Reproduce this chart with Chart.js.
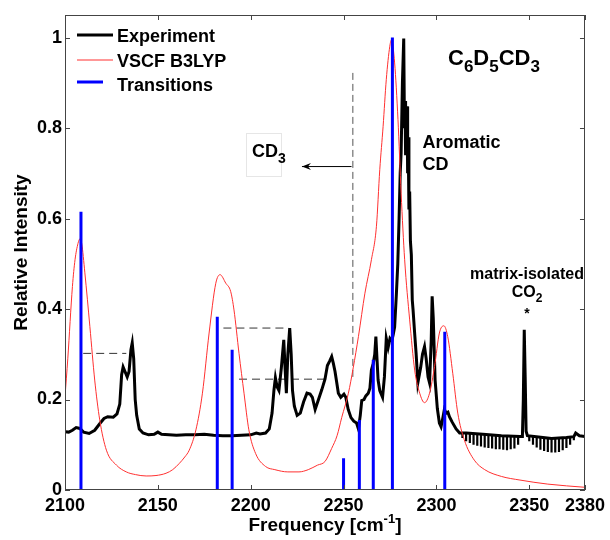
<!DOCTYPE html>
<html><head><meta charset="utf-8">
<script src="https://cdn.jsdelivr.net/npm/chart.js@4/dist/chart.umd.min.js"></script>
<style>html,body{margin:0;padding:0;background:#fff}#wrap{width:610px;height:540px;position:relative}</style>
</head><body><div id="wrap"><canvas id="c" width="610" height="540"></canvas></div>
<script>
// ---------- data ----------
const expFreq = [2100,2102,2104,2106,2108,2110,2113,2116,2119,2121,2123,2126,2128,2129.5,2130.5,2131.3,2132.3,2133.5,2134.5,2135.5,2136.2,2137,2137.8,2138.6,2140,2142,2145,2148,2150,2152,2156,2160,2165,2170,2175,2180,2185,2190,2195,2200,2203,2205,2208,2210,2211.5,2212.5,2213.3,2214.2,2215.2,2216.5,2217.8,2218.5,2219.2,2220,2221,2221.8,2222.5,2223.5,2225,2226.7,2228.5,2230.3,2232,2233.2,2234.7,2236.5,2238.3,2240,2241.3,2242.5,2243.6,2244.5,2245.4,2246.3,2247.2,2248.5,2250.2,2251.2,2252.5,2254,2255.5,2257,2258,2259,2259.8,2261,2262,2263.3,2264.2,2265,2266,2266.8,2267.4,2268,2268.6,2269.5,2271,2272,2273,2274,2275,2276,2276.7,2277.5,2278.4,2279.2,2279.9,2280.5,2281,2281.7,2282.4,2282.8,2283.1,2283.4,2283.8,2284.2,2284.5,2284.8,2285.2,2285.6,2286,2286.5,2287,2287.4,2288.3,2289.1,2290,2291.5,2292.5,2293.6,2294.5,2295.5,2296.3,2297.2,2297.7,2298.3,2299.3,2300.5,2301.6,2302.5,2303.5,2304.3,2305.3,2306.2,2307,2308.5,2310.6,2312.5,2316,2325,2335,2345,2346.3,2346.8,2347.3,2347.8,2348.3,2349,2355,2362,2370,2374,2375,2377,2380];
const expInt = [0.129,0.128,0.132,0.138,0.136,0.128,0.125,0.132,0.148,0.158,0.162,0.161,0.168,0.19,0.255,0.272,0.262,0.25,0.262,0.31,0.325,0.29,0.2,0.165,0.135,0.126,0.122,0.123,0.128,0.123,0.122,0.121,0.122,0.122,0.123,0.121,0.12,0.12,0.121,0.122,0.126,0.124,0.126,0.135,0.17,0.22,0.248,0.228,0.22,0.27,0.332,0.27,0.214,0.3,0.358,0.3,0.22,0.185,0.165,0.17,0.195,0.214,0.212,0.205,0.178,0.2,0.222,0.245,0.275,0.285,0.295,0.28,0.262,0.238,0.214,0.205,0.212,0.205,0.178,0.16,0.152,0.148,0.135,0.165,0.198,0.2,0.208,0.214,0.225,0.265,0.28,0.3,0.339,0.29,0.243,0.22,0.205,0.25,0.335,0.315,0.335,0.33,0.343,0.36,0.43,0.5,0.6,0.7,0.745,0.9,0.998,0.8,0.86,0.74,0.83,0.848,0.7,0.78,0.62,0.66,0.55,0.52,0.42,0.4,0.345,0.3,0.237,0.27,0.3,0.317,0.29,0.25,0.237,0.33,0.428,0.38,0.243,0.18,0.148,0.14,0.16,0.178,0.17,0.172,0.162,0.15,0.135,0.126,0.126,0.123,0.12,0.118,0.118,0.2,0.354,0.25,0.13,0.12,0.117,0.114,0.116,0.118,0.126,0.12,0.118];

// interference "comb" on the experimental baseline: tooth position, top and bottom intensity
const toothFreq   = [2314,2316,2318,2320,2322,2324,2326,2328,2330,2332,2334,2336,2338,2340,2342,2344,2350,2352,2354,2356,2358,2360,2362,2364,2366,2368,2370,2372,2374];
const toothTop    = [0.126,0.126,0.125,0.125,0.124,0.124,0.123,0.122,0.122,0.121,0.12,0.12,0.119,0.118,0.118,0.118,0.12,0.119,0.118,0.117,0.116,0.115,0.114,0.114,0.115,0.115,0.116,0.117,0.118];
const toothBottom = [0.115,0.108,0.104,0.1,0.098,0.096,0.094,0.093,0.092,0.09,0.09,0.089,0.088,0.09,0.092,0.1,0.108,0.1,0.094,0.089,0.086,0.084,0.083,0.083,0.084,0.088,0.093,0.1,0.11];

const vscfFreq = [2100,2101.5,2104,2105.4,2107,2108,2109,2110.7,2113.4,2116,2118.7,2122.3,2127.7,2133,2138,2143.7,2149,2154.4,2158,2161.6,2164.5,2166.9,2170.5,2174,2177.6,2181.2,2183.5,2186.6,2189.2,2191,2193.7,2196.4,2199,2202.6,2208,2213,2220,2226,2231,2236,2240,2243.6,2246.5,2249,2252.6,2255.2,2258,2261.5,2265,2267.7,2269.5,2271.3,2273,2274.9,2275.8,2277.5,2279.3,2281,2282.9,2285.6,2288.3,2291,2293.6,2296.3,2299,2301.6,2304,2306.1,2308.8,2311.5,2315,2320.4,2326,2335,2345,2360,2380];
const vscfInt = [0.206,0.29,0.45,0.509,0.545,0.555,0.545,0.48,0.361,0.243,0.155,0.088,0.055,0.04,0.034,0.031,0.032,0.037,0.045,0.059,0.073,0.088,0.133,0.214,0.347,0.457,0.476,0.457,0.439,0.398,0.302,0.214,0.133,0.081,0.052,0.045,0.04,0.04,0.045,0.055,0.063,0.092,0.12,0.16,0.214,0.27,0.339,0.435,0.509,0.583,0.708,0.804,0.907,0.981,0.995,0.944,0.819,0.656,0.509,0.376,0.265,0.214,0.193,0.214,0.273,0.347,0.363,0.339,0.258,0.17,0.111,0.066,0.045,0.03,0.022,0.013,0.006];

const transFreq = [2108.6,2182,2190,2250,2258.5,2266,2276.3,2304.5];
const transInt  = [0.615,0.383,0.31,0.07,0.155,0.288,1.0,0.35];

const xTicks = [2100,2150,2200,2250,2300,2350,2380];
const yTicks = [0,0.2,0.4,0.6,0.8,1];

// dashed guide lines: start freq, end freq, level
const guideFrom  = [2109.8,2185.3,2193.7];
const guideTo    = [2133,2220.4,2240];
const guideLevel = [0.302,0.358,0.245];
// CD3 divider: frequency, lower and upper intensity
const dividerFreq = 2255;
const dividerSpan = [0.25,0.93];
// arrow: from freq, to freq, level
const arrowSpan = [2254.3,2227.6];
const arrowLevel = 0.715;

// ---------- build ----------
const FONT = "'Liberation Sans', Arial, Helvetica, sans-serif";
const pts = (xs, ys) => xs.map((x,i)=>({x:x, y:ys[i]}));
const sticks = [];
transFreq.forEach((f,i)=>{ sticks.push({x:f,y:0},{x:f,y:transInt[i]},{x:f,y:null}); });
const teeth = [];
toothFreq.forEach((f,i)=>{ teeth.push({x:f,y:toothTop[i]},{x:f,y:toothBottom[i]},{x:f,y:null}); });
const guides = [];
guideFrom.forEach((f,i)=>{ guides.push({x:f,y:guideLevel[i]},{x:guideTo[i],y:guideLevel[i]},{x:guideTo[i],y:null}); });

const decor = {
  id:'decor',
  afterDraw(chart){
    const {ctx, chartArea:a, scales:{x,y}} = chart;
    ctx.save();
    ctx.strokeStyle = '#444'; ctx.lineWidth = 1;
    ctx.strokeRect(Math.round(a.left)+0.5, Math.round(a.top)+0.5, Math.round(a.right-a.left)-1, Math.round(a.bottom-a.top)-1);
    ctx.beginPath();
    xTicks.forEach(v=>{ const px=Math.round(x.getPixelForValue(v))+0.5;
      ctx.moveTo(px,a.bottom); ctx.lineTo(px,a.bottom-5); ctx.moveTo(px,a.top); ctx.lineTo(px,a.top+5); });
    yTicks.forEach(v=>{ const py=Math.round(y.getPixelForValue(v))+0.5;
      ctx.moveTo(a.left,py); ctx.lineTo(a.left+5,py); ctx.moveTo(a.right,py); ctx.lineTo(a.right-5,py); });
    ctx.stroke();

    ctx.fillStyle='#000';
    ctx.font = 'bold 19px '+FONT;
    ctx.save(); ctx.translate(27,(a.top+a.bottom)/2); ctx.rotate(-Math.PI/2);
    ctx.textAlign='center'; ctx.textBaseline='alphabetic'; ctx.fillText('Relative Intensity',0,0); ctx.restore();
    const t1='Frequency [cm', t2='-1', t3=']';
    ctx.font='bold 19px '+FONT; const w1=ctx.measureText(t1).width, w3=ctx.measureText(t3).width;
    ctx.font='bold 13px '+FONT; const w2=ctx.measureText(t2).width;
    let sx=(a.left+a.right)/2-(w1+w2+w3)/2; const by=531;
    ctx.textAlign='left'; ctx.textBaseline='alphabetic';
    ctx.font='bold 19px '+FONT; ctx.fillText(t1,sx,by);
    ctx.font='bold 13px '+FONT; ctx.fillText(t2,sx+w1,by-8);
    ctx.font='bold 19px '+FONT; ctx.fillText(t3,sx+w1+w2,by);

    const leg=[['Experiment','#000',3,113],['VSCF B3LYP','#ff3030',1,113],['Transitions','#0000ff',3,103]];
    const ly=[35,60,82], lb=[41.7,66.7,90.7];
    leg.forEach((l,i)=>{ ctx.strokeStyle=l[1]; ctx.lineWidth=l[2]; ctx.beginPath(); ctx.moveTo(77,ly[i]); ctx.lineTo(l[3],ly[i]); ctx.stroke();
      ctx.fillStyle='#000'; ctx.font='bold 18px '+FONT; ctx.fillText(l[0],117,lb[i]); });

    const sub=(parts, x0, base, big, small, drop)=>{ let cx=x0; parts.forEach(p=>{ ctx.font='bold '+(p[1]?small:big)+'px '+FONT; ctx.fillText(p[0],cx,base+(p[1]?drop:0)); cx+=ctx.measureText(p[0]).width; }); };
    ctx.fillStyle='#000';
    sub([['C',0],['6',1],['D',0],['5',1],['CD',0],['3',1]],448,65,22,17,7);

    ctx.strokeStyle='#e6e6e6'; ctx.lineWidth=1; ctx.strokeRect(246.5,133.5,35,43);
    sub([['CD',0],['3',1]],252,156.5,18,14,6);
    const ay=y.getPixelForValue(arrowLevel), ax0=x.getPixelForValue(arrowSpan[0]), ax1=x.getPixelForValue(arrowSpan[1]);
    ctx.strokeStyle='#000'; ctx.lineWidth=1; ctx.beginPath(); ctx.moveTo(ax0,ay); ctx.lineTo(ax1,ay); ctx.stroke();
    ctx.fillStyle='#000'; ctx.beginPath(); ctx.moveTo(ax1,ay); ctx.lineTo(ax1+9,ay-3.5); ctx.lineTo(ax1+6,ay); ctx.lineTo(ax1+9,ay+3.5); ctx.closePath(); ctx.fill();

    ctx.font='bold 18px '+FONT; ctx.textAlign='left';
    ctx.fillText('Aromatic',422.5,148); ctx.fillText('CD',422.5,170);
    ctx.textAlign='center'; ctx.font='bold 16px '+FONT;
    ctx.fillText('matrix-isolated',527,279);
    ctx.textAlign='left'; ctx.font='bold 16px '+FONT; const wc=ctx.measureText('CO').width;
    ctx.font='bold 12px '+FONT; const w22=ctx.measureText('2').width;
    const cx0=527-(wc+w22)/2;
    ctx.font='bold 16px '+FONT; ctx.fillText('CO',cx0,297);
    ctx.font='bold 12px '+FONT; ctx.fillText('2',cx0+wc,302);
    ctx.textAlign='center'; ctx.font='bold 14px '+FONT; ctx.fillText('*',527,318);
    ctx.restore();
  }
};

new Chart(document.getElementById('c'), {
  type:'line',
  data:{ datasets:[
    {label:'Transitions', data:sticks, borderColor:'#0000ff', borderWidth:3, pointRadius:0, spanGaps:false, tension:0, borderCapStyle:'butt', order:0},
    {label:'VSCF B3LYP', data:pts(vscfFreq,vscfInt), borderColor:'#ff3030', borderWidth:1, pointRadius:0, cubicInterpolationMode:'monotone', order:1},
    {label:'Experiment', data:pts(expFreq,expInt), borderColor:'#000', borderWidth:3, pointRadius:0, tension:0, order:2},
    {label:'Experiment fringes', data:teeth, borderColor:'#000', borderWidth:2.2, pointRadius:0, spanGaps:false, tension:0, borderCapStyle:'butt', order:3},
    {label:'guides', data:guides, borderColor:'#333', borderWidth:1, borderDash:[8,5], pointRadius:0, spanGaps:false, order:4},
    {label:'divider', data:[{x:dividerFreq,y:dividerSpan[0]},{x:dividerFreq,y:dividerSpan[1]}], borderColor:'#555', borderWidth:1, borderDash:[7,4], pointRadius:0, order:5}
  ]},
  options:{
    responsive:false, animation:false, devicePixelRatio:1,
    layout:{padding:{top:15,right:22,left:0,bottom:0}},
    plugins:{legend:{display:false}, tooltip:{enabled:false}},
    scales:{
      x:{type:'linear', min:2100, max:2380,
        afterBuildTicks:s=>{s.ticks=xTicks.map(v=>({value:v}));},
        afterFit:s=>{s.height=50;},
        grid:{display:false, drawTicks:false}, border:{display:false},
        ticks:{color:'#000', font:{family:FONT, size:18, weight:'bold'}, padding:5, maxRotation:0, autoSkip:false, callback:v=>String(v)}},
      y:{type:'linear', min:0, max:1.05,
        afterBuildTicks:s=>{s.ticks=yTicks.map(v=>({value:v}));},
        afterFit:s=>{s.width=65;},
        grid:{display:false, drawTicks:false}, border:{display:false},
        ticks:{color:'#000', font:{family:FONT, size:18, weight:'bold'}, padding:3, autoSkip:false, callback:v=>(v===0||v===1)?String(v):v.toFixed(1)}}
    }
  },
  plugins:[decor]
});
</script></body></html>
